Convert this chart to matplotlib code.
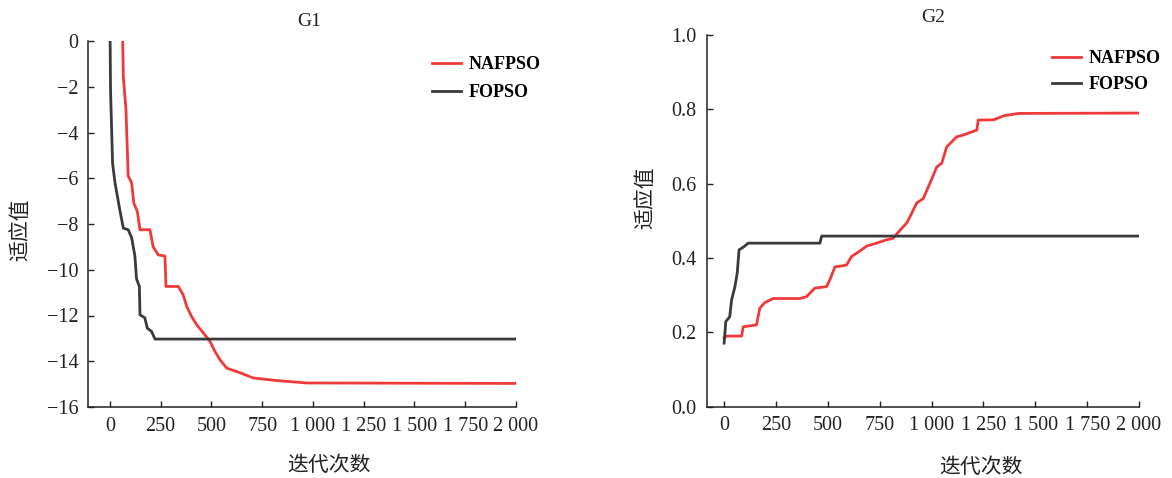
import matplotlib
matplotlib.use("Agg")
import matplotlib.pyplot as plt

plt.rcParams['font.family'] = ['Liberation Serif', 'Noto Sans CJK SC', 'DejaVu Sans']
plt.rcParams['axes.unicode_minus'] = True

# data
x_ticks = [0, 250, 500, 750, 1000, 1250, 1500, 1750, 2000]
x_ticklabels = ['0', '250', '500', '750', '1 000', '1 250', '1 500', '1 750', '2 000']

g1_yticks = [0, -2, -4, -6, -8, -10, -12, -14, -16]
g2_yticks = [0.0, 0.2, 0.4, 0.6, 0.8, 1.0]

g1_naf_x = [62, 63, 66, 79, 90, 107, 118, 135, 148, 197, 213, 238, 271, 276, 337, 361, 378,
            402, 427, 460, 493, 517, 542, 575, 640, 706, 804, 969, 2000]
g1_naf_y = [2.0, 0.0, -1.56, -3.0, -5.9, -6.2, -7.1, -7.45, -8.25, -8.25, -9.0, -9.35, -9.4,
            -10.73, -10.73, -11.1, -11.6, -12.04, -12.4, -12.76, -13.13, -13.57, -13.93,
            -14.3, -14.5, -14.73, -14.83, -14.95, -14.97]

g1_fo_x = [0, 1, 3, 13, 25, 49, 66, 90, 107, 123, 131, 145, 148, 172, 184, 205, 222, 2000]
g1_fo_y = [2.0, 0.0, -2.14, -5.34, -6.2, -7.4, -8.18, -8.25, -8.6, -9.4, -10.4, -10.73,
           -11.97, -12.1, -12.55, -12.7, -13.03, -13.03]

g2_naf_x = [0, 11, 84, 92, 156, 172, 196, 236, 365, 397, 437, 494, 510, 534, 590, 614, 639,
            687, 735, 783, 815, 848, 880, 896, 928, 960, 992, 1025, 1049, 1073, 1121, 1153,
            1218, 1225, 1300, 1350, 1420, 2000]
g2_naf_y = [0.185, 0.190, 0.190, 0.215, 0.220, 0.265, 0.280, 0.291, 0.291, 0.296, 0.319,
            0.323, 0.342, 0.376, 0.381, 0.404, 0.413, 0.432, 0.440, 0.449, 0.453, 0.475,
            0.494, 0.511, 0.548, 0.560, 0.601, 0.645, 0.655, 0.699, 0.726, 0.731, 0.744,
            0.771, 0.772, 0.783, 0.789, 0.790]

g2_fo_x = [0, 8, 27, 36, 52, 63, 72, 92, 116, 462, 470, 2000]
g2_fo_y = [0.171, 0.229, 0.242, 0.287, 0.323, 0.359, 0.422, 0.429, 0.440, 0.440, 0.459, 0.459]

red = '#f03a3a'
dark = '#3a3a3a'
W, H = 1172, 478

fig = plt.figure(figsize=(11.72, 4.78), dpi=100)


def style_axes(ax, yticks, ylabels):
    for s in ['top', 'right']:
        ax.spines[s].set_visible(False)
    for s in ['left', 'bottom']:
        ax.spines[s].set_linewidth(1.1)
        ax.spines[s].set_color('#222222')
    ax.set_xticks(x_ticks)
    ax.set_xticklabels(x_ticklabels)
    ax.set_yticks(yticks)
    ax.set_yticklabels(ylabels)
    ax.tick_params(direction='in', length=4, width=1.0, labelsize=14.5, pad=7, colors='#222222')


# G1
ax1 = fig.add_axes([88 / W, (H - 407) / H, (516 - 88) / W, (407 - 41) / H])
ax1.plot(g1_naf_x, g1_naf_y, color=red, lw=2.0, label='NAFPSO')
ax1.plot(g1_fo_x, g1_fo_y, color=dark, lw=2.0, label='FOPSO')
ax1.set_xlim(-108, 2000)
ax1.set_ylim(-16, 0)
style_axes(ax1, g1_yticks, ['0' if v == 0 else '\u2212%d' % -v for v in g1_yticks])
ax1.legend(loc='upper left', bbox_to_anchor=(432 / W, (H - 56) / H),
           bbox_transform=fig.transFigure, frameon=False, borderpad=0, borderaxespad=0,
           handlelength=1.6, handletextpad=0.45, labelspacing=0.6,
           prop={'family': 'Liberation Serif', 'weight': 'bold', 'size': 13})

# G2
ax2 = fig.add_axes([706.5 / W, (H - 406.7) / H, (1139 - 706.5) / W, (406.7 - 35) / H])
ax2.plot(g2_naf_x, g2_naf_y, color=red, lw=2.0, label='NAFPSO')
ax2.plot(g2_fo_x, g2_fo_y, color=dark, lw=2.0, label='FOPSO')
ax2.set_xlim(-85, 2000)
ax2.set_ylim(0, 1)
style_axes(ax2, g2_yticks, ['%.1f' % v for v in g2_yticks])
ax2.legend(loc='upper left', bbox_to_anchor=(1052 / W, (H - 50) / H),
           bbox_transform=fig.transFigure, frameon=False, borderpad=0, borderaxespad=0,
           handlelength=1.6, handletextpad=0.45, labelspacing=0.5,
           prop={'family': 'Liberation Serif', 'weight': 'bold', 'size': 13})

# titles and axis labels
fig.text(309 / W, (H - 22) / H, 'G1', ha='center', va='center', fontsize=14, color='#222222')
fig.text(933 / W, (H - 18) / H, 'G2', ha='center', va='center', fontsize=14, color='#222222')
cjk = ['Noto Sans CJK SC', 'DejaVu Sans']
fig.text(20 / W, (H - 230) / H, '适应值', rotation=90, ha='center', va='center',
         fontsize=15, family=cjk, color='#222222')
fig.text(645 / W, (H - 198) / H, '适应值', rotation=90, ha='center', va='center',
         fontsize=15, family=cjk, color='#222222')
fig.text(329 / W, (H - 465) / H, '迭代次数', ha='center', va='center',
         fontsize=15, family=cjk, color='#222222')
fig.text(981 / W, (H - 467) / H, '迭代次数', ha='center', va='center',
         fontsize=15, family=cjk, color='#222222')

fig.savefig('out.png', dpi=100)
